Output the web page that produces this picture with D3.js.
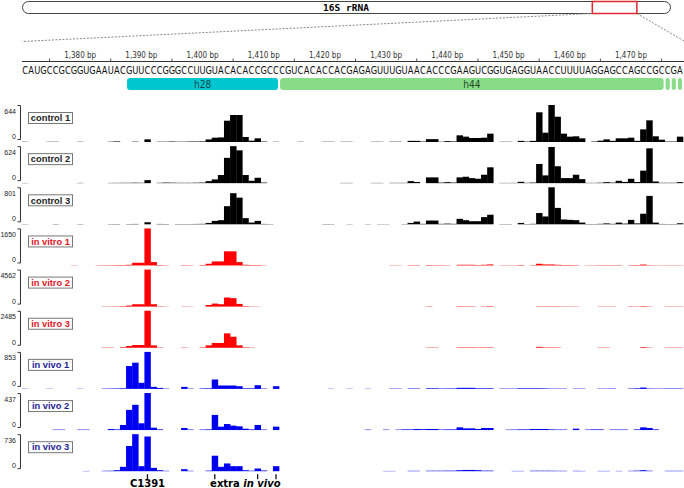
<!DOCTYPE html>
<html>
<head>
<meta charset="utf-8">
<script src="https://cdn.jsdelivr.net/npm/d3@7"></script>
<style>
  html, body { margin: 0; padding: 0; background: #fff; }
  svg { display: block; }
</style>
</head>
<body>
<svg id="chart" width="684" height="488"></svg>
<script>
// sequence window shown (first base = 1371)
var seqStart = 1371;
var sequence = "CAUGCCGCGGUGAAUACGUUCCCGGGCCUUGUACACACCGCCCGUCACACCACGAGAGUUUGUAACACCCGAAGUCGGUGAGGUAACCUUUUAGGAGCCAGCCGCCGA";
var rnaLength = 1560;

var rulerTicks = [1380, 1390, 1400, 1410, 1420, 1430, 1440, 1450, 1460, 1470];
var minorTicks = [1375, 1385, 1395, 1405, 1415, 1425, 1435, 1445, 1455, 1465, 1475];

// helices: [name, first bp, last bp]
var helices = [["h28", 1388, 1412, "#00c6cf"], ["h44", 1413, 1475, "#88dc88"],
               ["", 1476, 1476, "#88dc88"], ["", 1477, 1477, "#88dc88"], ["", 1478, 1478, "#88dc88"]];

var trackNames = ["control 1", "control 2", "control 3", "in vitro 1", "in vitro 2", "in vitro 3", "in vivo 1", "in vivo 2", "in vivo 3"];
var trackMax = [644, 624, 801, 1650, 4562, 2485, 853, 437, 736];
var trackKind = ["control", "control", "control", "vitro", "vitro", "vitro", "vivo", "vivo", "vivo"];

// counts per position: [offset from seqStart, count]
var control1 = [[0,4],[4,4],[5,4],[9,4],[14,5],[15,10],[18,6],[20,46],[22,5],[23,5],[24,8],[25,5],[26,5],[27,8],[28,8],[29,10],
  [30,45],[31,75],[32,80],[33,371],[34,470],[35,470],[36,87],[37,23],[38,64],[39,8],[41,4],[45,4],[49,4],[50,4],[52,4],[53,4],
  [57,4],[58,4],[60,5],[61,5],[63,20],[64,20],[65,8],[66,50],[67,50],[68,5],[69,15],[70,10],[71,116],[72,93],[73,70],[74,70],
  [75,75],[76,145],[78,4],[79,4],[81,20],[82,8],[83,20],[84,517],[85,162],[86,644],[87,440],[88,145],[89,93],[90,99],[91,64],
  [93,8],[94,23],[95,46],[96,20],[97,64],[98,64],[99,75],[100,20],[101,220],[102,377],[103,99],[104,40],[105,8],[106,8],[107,93]];
var control2 = [[0,3],[9,4],[14,4],[15,5],[16,6],[17,6],[18,8],[19,6],[20,51],[22,6],[23,10],[24,8],[25,6],[26,6],[27,6],[28,8],
  [29,10],[30,34],[31,63],[32,137],[33,427],[34,624],[35,553],[36,137],[37,40],[38,91],[39,10],[52,4],[53,4],[57,4],[58,4],
  [60,5],[61,5],[62,5],[63,34],[64,20],[66,97],[67,97],[68,10],[69,17],[70,10],[71,97],[72,108],[73,85],[74,74],[75,142],
  [76,267],[78,4],[79,4],[80,5],[81,23],[82,6],[83,10],[84,324],[85,131],[86,610],[87,285],[88,85],[89,85],[90,142],[91,68],
  [92,5],[93,5],[94,8],[95,17],[96,10],[97,40],[98,20],[99,74],[100,20],[101,211],[102,587],[103,28],[104,6],[105,6],[106,6],[107,17]];
var control3 = [[0,4],[5,5],[9,5],[14,5],[15,6],[17,6],[18,8],[20,44],[22,8],[23,6],[25,6],[26,6],[27,6],[28,8],[29,10],
  [30,30],[31,74],[32,89],[33,392],[34,673],[35,577],[36,133],[37,37],[38,74],[39,8],[40,5],[49,5],[50,5],[53,4],[56,4],
  [58,4],[59,4],[62,5],[63,30],[64,59],[65,10],[66,81],[67,81],[68,10],[69,15],[70,10],[71,118],[72,89],[73,67],[74,67],
  [75,155],[76,207],[78,5],[79,5],[81,30],[82,6],[83,10],[84,244],[85,170],[86,801],[87,355],[88,104],[89,96],[90,89],[91,37],
  [92,6],[93,6],[94,10],[95,20],[96,10],[97,37],[98,15],[99,96],[100,20],[101,229],[102,615],[103,37],[104,8],[105,6],[106,6],[107,22]];
var vitro1 = [[8,10],[12,10],[13,15],[14,15],[15,20],[16,20],[17,30],[18,120],[19,120],[20,1650],[21,150],[22,20],[23,10],
  [26,15],[27,10],[29,20],[30,75],[31,180],[32,180],[33,630],[34,630],[35,150],[36,30],[37,20],[38,20],[39,10],[60,10],[61,10],
  [63,15],[64,15],[66,20],[67,15],[68,15],[69,10],[71,30],[72,30],[73,30],[74,20],[75,30],[76,45],[78,10],[79,10],[80,10],
  [81,20],[83,15],[84,75],[85,45],[86,45],[87,30],[88,20],[89,20],[90,15],[92,10],[93,10],[94,15],[95,15],[96,15],[97,15],
  [99,15],[100,20],[101,40],[102,15],[103,10],[104,10],[105,10],[106,10],[107,10]];
var vitro2 = [[13,30],[14,30],[15,40],[16,60],[17,125],[18,290],[19,290],[20,4562],[21,290],[22,40],[23,20],[26,30],[27,20],
  [30,200],[31,370],[32,290],[33,1120],[34,1040],[35,330],[36,60],[37,30],[38,20],[66,40],[71,50],[72,40],[73,40],[75,40],
  [76,60],[84,40],[85,40],[86,40],[87,40],[88,30],[89,30],[90,30],[94,30],[95,30],[96,30],[99,40],[100,30],[101,60],[102,30],
  [105,30],[106,30],[107,30]];
var vitro3 = [[13,20],[14,20],[16,40],[17,115],[18,184],[19,184],[20,2485],[21,160],[22,25],[26,20],[29,30],[30,160],[31,322],
  [32,322],[33,966],[34,740],[35,160],[36,30],[37,20],[66,20],[67,20],[71,30],[72,30],[73,30],[74,25],[75,30],[76,30],
  [84,60],[85,30],[86,30],[87,25],[94,20],[95,20],[101,45],[102,20],[105,20],[106,20],[107,20]];
var vivo1 = [[0,5],[4,5],[9,5],[13,8],[14,10],[15,12],[16,15],[17,527],[18,605],[19,140],[20,853],[21,47],[22,23],[23,8],
  [26,47],[27,8],[29,12],[30,15],[31,217],[32,78],[33,78],[34,78],[35,62],[36,15],[37,15],[38,85],[39,10],[41,62],[50,5],
  [53,5],[56,5],[60,8],[61,8],[63,10],[64,10],[66,15],[67,15],[68,10],[69,12],[70,12],[71,25],[72,25],[73,25],[74,15],[75,15],
  [76,15],[78,8],[79,8],[80,8],[81,15],[82,15],[83,15],[84,15],[85,12],[86,8],[87,8],[88,8],[90,8],[91,8],[94,8],[95,8],
  [96,10],[99,10],[100,15],[101,31],[102,10],[103,8],[104,8],[105,10],[106,10],[107,10]];
var vivo2 = [[5,5],[6,5],[9,5],[10,5],[14,12],[15,8],[16,60],[17,238],[18,298],[19,80],[20,437],[21,28],[22,8],[26,24],[27,6],
  [29,6],[30,8],[31,179],[32,40],[33,71],[34,52],[35,44],[36,16],[37,8],[38,60],[39,6],[41,40],[56,5],[59,5],[61,5],[62,8],
  [63,8],[64,12],[65,10],[66,12],[67,12],[68,6],[69,8],[70,8],[71,32],[72,20],[73,20],[74,12],[75,24],[76,24],[79,5],[80,6],
  [81,8],[82,8],[83,12],[84,12],[85,12],[86,8],[87,6],[88,6],[90,16],[92,6],[93,8],[94,8],[96,6],[97,6],[98,6],[100,8],
  [101,32],[102,24],[103,8]];
var vivo3 = [[10,5],[13,8],[14,10],[15,20],[16,87],[17,502],[18,736],[19,100],[20,690],[21,67],[22,20],[23,8],[26,40],[27,8],
  [30,12],[31,308],[32,87],[33,154],[34,100],[35,100],[36,20],[37,10],[38,54],[39,15],[41,100],[59,5],[60,5],[63,8],[64,8],
  [66,10],[67,10],[68,10],[69,12],[70,12],[71,20],[72,25],[73,25],[74,20],[75,12],[76,12],[80,6],[81,6],[83,10],[84,10],
  [85,10],[86,10],[87,8],[88,8],[90,8],[91,6],[94,6],[95,6],[97,6],[99,8],[100,12],[101,20],[102,10],[105,8],[106,8],[107,8]];
var trackData = [control1, control2, control3, vitro1, vitro2, vitro3, vivo1, vivo2, vivo3];

// annotated sites below the tracks
var c1391Sites = [1391];
var extraSites = [1402, 1409, 1412];

var barColor = { control: "#000000", vitro: "#ff0000", vivo: "#0000f0" };
var textColor = { control: "#222222", vitro: "#e3141c", vivo: "#1c1c9a" };

var svg = d3.select("#chart");
var sans = "'Liberation Sans', Arial, sans-serif";
var dv = "'DejaVu Sans Condensed', 'DejaVu Sans', sans-serif";

var x = d3.scaleLinear().domain([seqStart - 0.5, seqStart + sequence.length - 0.5]).range([22, 683]);
var step = x(1) - x(0);

// ---- overview of the whole rRNA
var ov = d3.scaleLinear().domain([1, rnaLength]).range([22, 671]);
svg.append("rect").attr("x", 22.5).attr("y", 1.5).attr("width", 648).attr("height", 12)
    .attr("rx", 6).attr("fill", "#fff").attr("stroke", "#444").attr("stroke-width", 1);
svg.append("text").attr("x", 346).attr("y", 11).attr("text-anchor", "middle")
    .style("font-family", "'DejaVu Sans Mono', monospace").style("font-weight", "bold").style("font-size", "9.5px")
    .text("16S rRNA");

var zoomLines = [[ov(seqStart), x(seqStart - 0.5)], [ov(seqStart + sequence.length - 1), x(seqStart + sequence.length - 0.5) + 2]];
svg.selectAll("line.zoom").data(zoomLines).enter().append("line")
    .attr("class", "zoom")
    .attr("x1", d => d[0]).attr("y1", 13.5)
    .attr("x2", d => d[1]).attr("y2", 41.5)
    .attr("stroke", "#888").attr("stroke-width", 1).attr("stroke-dasharray", "2,1.5");

svg.append("rect").attr("x", ov(seqStart)).attr("y", 1.5)
    .attr("width", ov(seqStart + sequence.length - 1) - ov(seqStart)).attr("height", 12)
    .attr("fill", "none").attr("stroke", "#e0282e").attr("stroke-width", 1.5);

// ---- ruler
svg.append("line").attr("x1", 22).attr("x2", 684).attr("y1", 61.5).attr("y2", 61.5)
    .attr("stroke", "#333").attr("stroke-width", 1);
svg.selectAll("line.minor").data(minorTicks).enter().append("line")
    .attr("class", "minor")
    .attr("x1", d => x(d)).attr("x2", d => x(d))
    .attr("y1", 58.5).attr("y2", 61.5).attr("stroke", "#555");
svg.selectAll("text.ruler").data(rulerTicks).enter().append("text")
    .attr("class", "ruler")
    .attr("x", d => x(d)).attr("y", 57.5).attr("text-anchor", "middle")
    .style("font-family", dv).style("font-size", "8px").attr("fill", "#333")
    .text(d => d3.format(",")(d) + " bp");

// ---- sequence (letters squeezed a bit so they fit one base each)
svg.selectAll("text.base").data(sequence.split("")).enter().append("text")
    .attr("class", "base")
    .attr("transform", (d, i) => "translate(" + x(seqStart + i) + ",73.5) scale(0.84,1)")
    .attr("text-anchor", "middle")
    .style("font-family", dv).style("font-size", "11px").attr("fill", "#111")
    .text(d => d);

// ---- helices
var hg = svg.selectAll("g.helix").data(helices).enter().append("g").attr("class", "helix");
hg.append("rect")
    .attr("x", d => x(d[1] - 0.5) + 1).attr("y", 78)
    .attr("width", d => x(d[2] + 0.5) - x(d[1] - 0.5) - 2).attr("height", 12)
    .attr("rx", 3).attr("fill", d => d[3]);
hg.append("text")
    .attr("x", d => (x(d[1] - 0.5) + x(d[2] + 0.5)) / 2).attr("y", 87.5)
    .attr("text-anchor", "middle")
    .style("font-family", dv).style("font-size", "10px")
    .attr("fill", d => d[0] == "h28" ? "#0f4a4e" : "#234a23")
    .text(d => d[0]);

// ---- tracks
var trackTop = 105, trackStep = 41.15, trackH = 37;

trackData.forEach(function (data, t) {
    var top = trackTop + t * trackStep;
    var base = top + trackH;
    var kind = trackKind[t];
    var y = d3.scaleLinear().domain([0, trackMax[t]]).range([base, top]);
    var g = svg.append("g");

    g.selectAll("rect.bar").data(data).enter().append("rect")
        .attr("class", "bar")
        .attr("x", d => x(seqStart + d[0] - 0.5))
        .attr("width", step + 0.3)
        .attr("y", d => y(d[1]))
        .attr("height", d => base - y(d[1]))
        .attr("fill", barColor[kind]);

    // bracket axis
    g.append("path")
        .attr("d", "M17.5," + (top + 0.5) + "H20.5V" + (base - 2.5) + "H17.5")
        .attr("fill", "none").attr("stroke", "#333").attr("stroke-width", 1);
    g.append("text").attr("x", 16).attr("y", top + 8.5).attr("text-anchor", "end")
        .style("font-family", sans).style("font-size", "7px").attr("fill", "#222")
        .text(trackMax[t]);
    g.append("text").attr("x", 16).attr("y", base - 3).attr("text-anchor", "end")
        .style("font-family", sans).style("font-size", "7px").attr("fill", "#222")
        .text(0);

    // name box
    g.append("rect").attr("x", 28.5).attr("y", top + 7.5).attr("width", 44).attr("height", 11)
        .attr("fill", "#fff").attr("stroke", "#777").attr("stroke-width", 1);
    g.append("text").attr("x", 50.5).attr("y", top + 16.2).attr("text-anchor", "middle")
        .style("font-family", sans).style("font-weight", "bold").style("font-size", "9.3px")
        .attr("fill", textColor[kind])
        .text(trackNames[t]);
});

// ---- site annotations
var markY = trackTop + 8 * trackStep + trackH + 3;
svg.selectAll("line.site").data(c1391Sites.concat(extraSites)).enter().append("line")
    .attr("class", "site")
    .attr("x1", d => x(d)).attr("x2", d => x(d))
    .attr("y1", markY).attr("y2", markY + 5)
    .attr("stroke", "#111").attr("stroke-width", 1.3);

svg.append("text").attr("x", x(c1391Sites[0])).attr("y", 487).attr("text-anchor", "middle")
    .style("font-family", "'DejaVu Sans', sans-serif").style("font-weight", "bold").style("font-size", "10px")
    .text("C1391");

var extra = svg.append("text")
    .attr("x", (x(extraSites[0]) + x(extraSites[extraSites.length - 1])) / 2).attr("y", 487)
    .attr("text-anchor", "middle")
    .style("font-family", "'DejaVu Sans', sans-serif").style("font-weight", "bold").style("font-size", "10px");
extra.append("tspan").text("extra ");
extra.append("tspan").style("font-style", "italic").text("in vivo");
</script>
</body>
</html>
